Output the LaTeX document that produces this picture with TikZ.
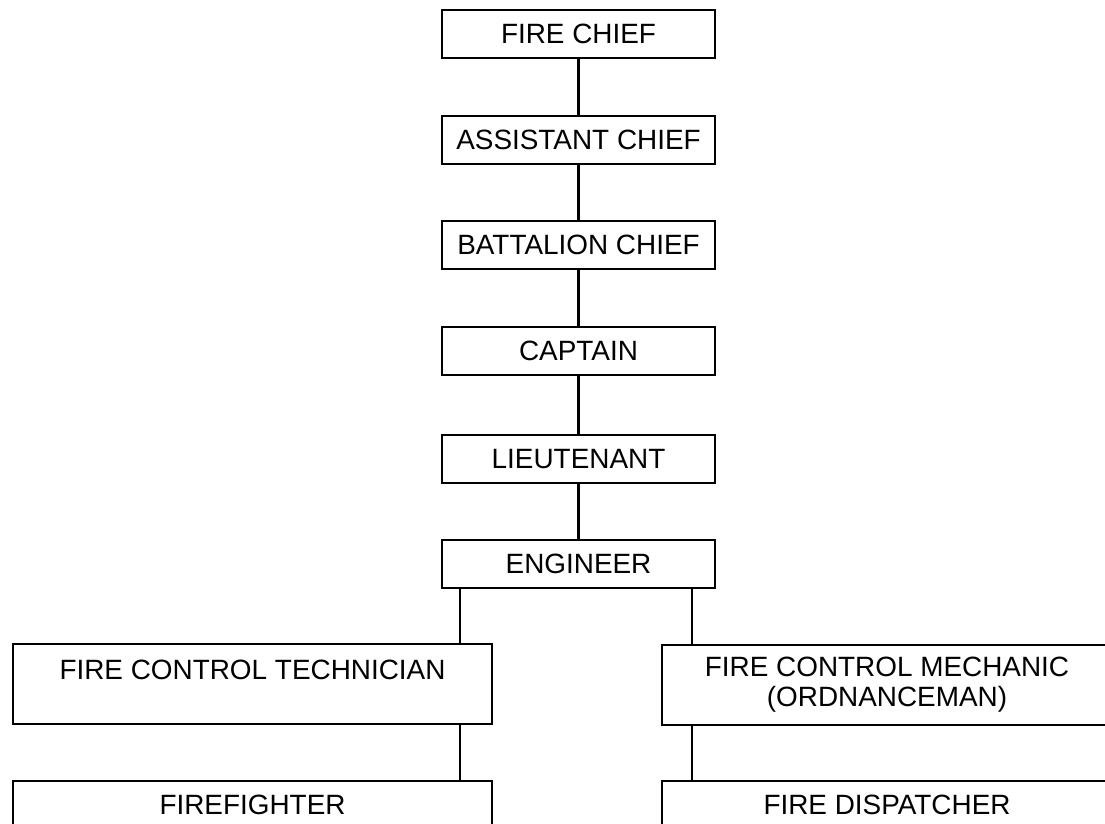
\documentclass[tikz,border=0pt]{standalone}
\usepackage{fontspec}
\setmainfont{Liberation Sans}
\begin{document}
\begin{tikzpicture}[x=1pt, y=-1pt, line width=2.2pt,
		rank/.style={draw, inner sep=0pt, minimum width=273pt, minimum height=48pt,
			font=\fontsize{27.9}{30}\selectfont},
		widerank/.style={rank, minimum width=479pt, minimum height=80pt, align=center}]
	\useasboundingbox (0,0) rectangle (1105,824);
	\clip (0,0) rectangle (1105,824);
	% chain of command
	\node[rank] (chief) at (578.5,34) {FIRE CHIEF};
	\node[rank] (assistant) at (578.5,140) {ASSISTANT CHIEF};
	\node[rank] (battalion) at (578.5,245) {BATTALION CHIEF};
	\node[rank] (captain) at (578.5,351) {CAPTAIN};
	\node[rank] (lieutenant) at (578.5,459) {LIEUTENANT};
	\node[rank] (engineer) at (578.5,564) {ENGINEER};
	\draw (chief) -- (assistant);
	\draw (assistant) -- (battalion);
	\draw (battalion) -- (captain);
	\draw (captain) -- (lieutenant);
	\draw (lieutenant) -- (engineer);
	% two branches
	\node[widerank, text height=20pt, text depth=30pt] (technician) at (252.5,684) {FIRE CONTROL TECHNICIAN};
	\node[widerank, minimum width=450pt] (mechanic) at (887,685) {FIRE CONTROL MECHANIC\\(ORDNANCEMAN)};
	\node[rank, minimum width=479pt] (firefighter) at (252.5,805) {FIREFIGHTER};
	\node[rank, minimum width=450pt] (dispatcher) at (887,805) {FIRE DISPATCHER};
	\coordinate (left) at ([xshift=19pt]engineer.south west);
	\coordinate (right) at ([xshift=-24pt]engineer.south east);
	\draw (left) -- (left |- technician.north);
	\draw (right) -- (right |- mechanic.north);
	\draw (left |- technician.south) -- (left |- firefighter.north);
	\draw (right |- mechanic.south) -- (right |- dispatcher.north);
\end{tikzpicture}
\end{document}
